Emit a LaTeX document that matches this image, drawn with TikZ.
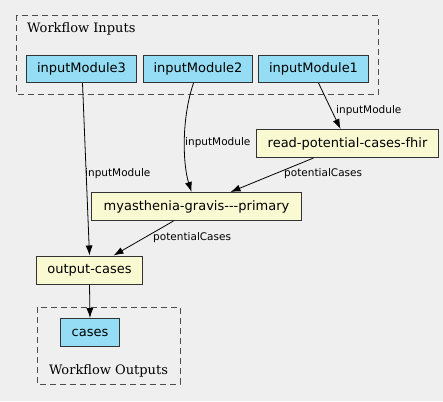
\documentclass[tikz,border=0pt]{standalone}
\usepackage{fontspec}
\newfontfamily\dv{DejaVu Sans}
\newfontfamily\dvs{DejaVu Serif}
\usetikzlibrary{arrows.meta}
\definecolor{bg}{HTML}{EFEFEF}
\definecolor{inblue}{HTML}{94DDF4}
\definecolor{stepyel}{HTML}{FAFAD2}
\definecolor{edgegray}{HTML}{333333}
\tikzset{
  iobox/.style={draw=edgegray, line width=1pt, fill=inblue, font=\dv\fontsize{13}{15}\selectfont, inner sep=0pt, anchor=north west},
  stepbox/.style={draw=edgegray, line width=1pt, fill=stepyel, font=\dv\fontsize{13}{15}\selectfont, inner sep=0pt, anchor=north west},
  cluster/.style={draw=black!70, line width=0.9pt, dash pattern=on 6pt off 4pt},
  conn/.style={-{Latex[length=10pt,width=7pt]}, line width=0.8pt, black},
  elabel/.style={font=\dv\fontsize{10.5}{12}\selectfont, inner sep=0pt, anchor=west},
  clabel/.style={font=\dvs\fontsize{13}{15}\selectfont, inner sep=0pt}
}
\begin{document}
\begin{tikzpicture}[x=1pt,y=-1pt]
\fill[bg] (0,0) rectangle (443,401);
\useasboundingbox (0,0) rectangle (443,401);
% clusters
\draw[cluster] (16,15.5) rectangle (378.5,94);
\node[clabel, anchor=west] (inlab) at (27,29) {Workflow Inputs};
\draw[cluster] (37,307) rectangle (180,384);
\node[clabel] (outlab) at (108.5,370.5) {Workflow Outputs};
% nodes
\node[iobox, minimum width=110pt, minimum height=27pt] (im3) at (26,55) {inputModule3};
\node[iobox, minimum width=109pt, minimum height=27pt] (im2) at (143,55) {inputModule2};
\node[iobox, minimum width=110pt, minimum height=27pt] (im1) at (258,55) {inputModule1};
\node[stepbox, minimum width=182pt, minimum height=28pt] (read) at (256,129) {read-potential-cases-fhir};
\node[stepbox, minimum width=210pt, minimum height=28pt] (mg) at (91,192) {myasthenia-gravis---primary};
\node[stepbox, minimum width=106pt, minimum height=28pt] (oc) at (36,255.5) {output-cases};
\node[iobox, minimum width=59pt, minimum height=28pt] (cases) at (60,318) {cases};
% edges
\draw[conn] ([xshift=1pt]im3.south) -- (oc.north);
\draw[conn] ([xshift=-4.5pt]im2.south) .. controls (181,120) and (183,165) .. ([xshift=-5pt]mg.north);
\draw[conn] ([xshift=5pt]im1.south) -- ([xshift=-7pt]read.north);
\draw[conn] ([xshift=-34pt]read.south) -- ([xshift=34pt]mg.north);
\draw[conn] ([xshift=-23pt]mg.south) -- ([xshift=24pt]oc.north);
\draw[conn] (oc.south) -- (cases.north);
% edge labels
\node[elabel] (l1) at (85,174) {inputModule};
\node[elabel] (l2) at (185,142.5) {inputModule};
\node[elabel] (l3) at (336,110.5) {inputModule};
\node[elabel] (l4) at (284,174) {potentialCases};
\node[elabel] (l5) at (153,237.5) {potentialCases};
\end{tikzpicture}
\end{document}
